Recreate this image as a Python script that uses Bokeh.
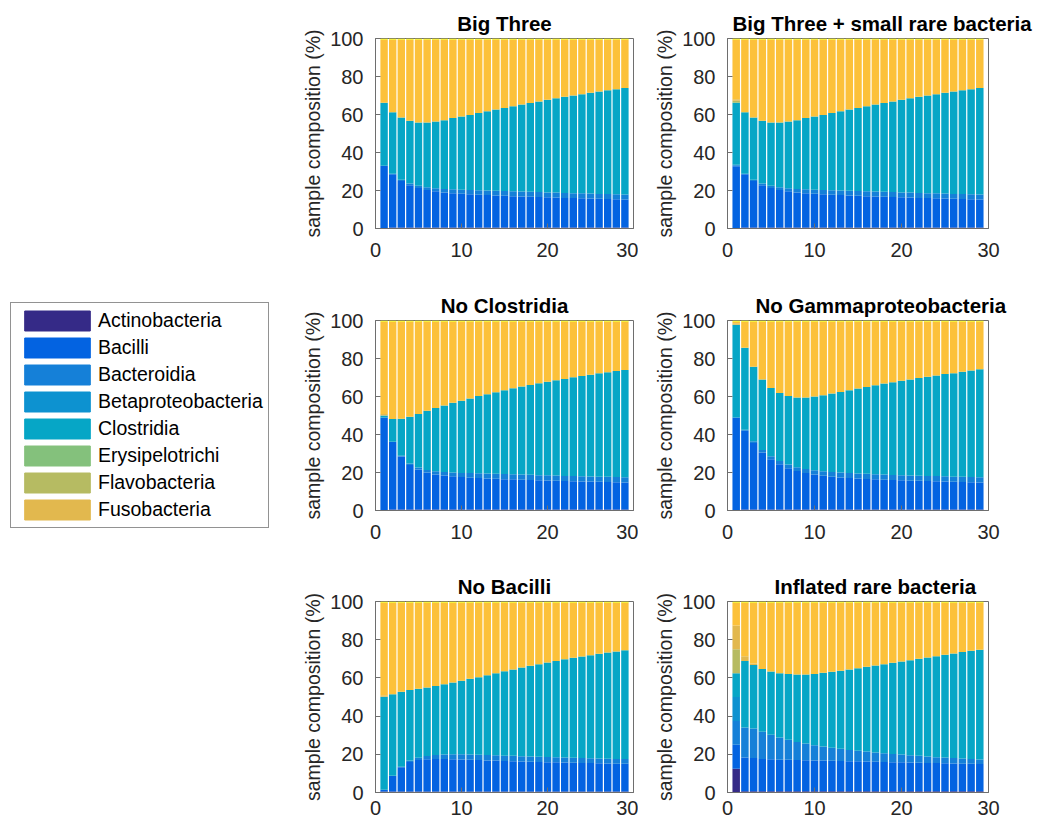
from bokeh.plotting import figure
from bokeh.models import ColumnDataSource, Legend, LegendItem, Range1d, FixedTicker
from bokeh.layouts import row, column
from bokeh.embed import file_html
from bokeh.resources import INLINE

# ---------------- data ----------------
samples = list(range(1, 30))
classes = ["Actinobacteria", "Bacilli", "Bacteroidia", "Betaproteobacteria", "Clostridia",
           "Erysipelotrichi", "Flavobacteria", "Fusobacteria", "Gammaproteobacteria", "Other"]
legend_classes = classes[:8]
colors = ["#352a87", "#0363e1", "#1580d8", "#0d92d0", "#06a6c6",
          "#84c17c", "#b6bb62", "#e2b84e", "#fcc13a", "#f6f20e"]

zeros = [0.0] * 29
top_other = [0.6] * 29

# Big Three
big3_actino = [0.0] + [0.5] * 28
big3_bacilli = [33.0, 28.0, 24.5, 22.3, 20.8, 19.8, 19.1, 18.5, 18.1, 17.8, 17.5, 17.3, 17.1, 16.9, 16.7,
                16.5, 16.4, 16.2, 16.1, 15.9, 15.8, 15.6, 15.5, 15.4, 15.3, 15.1, 15.0, 14.9, 14.8]
big3_bacteroidia = [0.0, 0.3, 0.6, 0.9, 1.2, 1.4, 1.6, 1.8, 2.0, 2.1, 2.2, 2.3, 2.4, 2.5, 2.5] + [2.6] * 14
big3_clostridia = [33.2, 32.4, 32.8, 33.0, 33.3, 34.1, 35.1, 36.2, 37.5, 38.5, 39.6, 40.7, 41.7, 42.7, 43.7,
                   44.7, 45.7, 46.7, 47.7, 48.8, 49.6, 50.6, 51.4, 52.2, 53.0, 53.9, 54.7, 55.3, 56.1]
big3_gamma = [33.2, 38.2, 41.0, 42.7, 43.6, 43.6, 43.1, 42.4, 41.3, 40.5, 39.6, 38.6, 37.7, 36.8, 36.0,
              35.1, 34.2, 33.4, 32.5, 31.6, 30.9, 30.1, 29.4, 28.7, 28.0, 27.3, 26.6, 26.1, 25.4]

# Big Three + small rare bacteria
rare_actino = [0.3] + big3_actino[1:]
rare_bacilli = [32.5] + big3_bacilli[1:]
rare_bacteroidia = [0.5] + big3_bacteroidia[1:]
rare_betaproteo = [0.3] + [0.0] * 28
rare_clostridia = [32.5] + big3_clostridia[1:]
rare_erysip = [0.3] + [0.0] * 28
rare_flavo = [0.8] + [0.0] * 28
rare_fuso = [0.8] + [0.0] * 28
rare_gamma = [31.4] + big3_gamma[1:]

# No Clostridia
noclos_actino = [0.3] + [0.5] * 28
noclos_bacilli = [48.7, 35.5, 27.9, 23.5, 21.1, 19.5, 18.5, 17.9, 17.5, 17.1, 16.8, 16.6, 16.4, 16.2, 16.0,
                  15.9, 15.7, 15.6, 15.4, 15.3, 15.2, 15.0, 14.9, 14.8, 14.7, 14.6, 14.5, 14.4, 14.3]
noclos_bacteroidia = [0.0, 0.2, 0.4, 0.7, 1.0, 1.3, 1.6, 1.8, 2.0, 2.2, 2.4, 2.5, 2.6] + [2.7] * 16
noclos_clostridia = [1.0, 12.0, 19.5, 24.7, 28.2, 31.2, 33.3, 35.1, 36.7, 37.9, 39.3, 40.6, 41.7, 42.9, 44.1,
                     45.2, 46.3, 47.3, 48.4, 49.2, 50.1, 51.0, 52.0, 52.8, 53.6, 54.4, 55.0, 55.8, 56.4]
noclos_fuso = [0.8] + [0.0] * 28
noclos_gamma = [48.6, 51.2, 51.1, 50.0, 48.6, 46.9, 45.5, 44.1, 42.7, 41.7, 40.4, 39.2, 38.2, 37.1, 36.1,
                35.1, 34.2, 33.3, 32.4, 31.7, 30.9, 30.2, 29.3, 28.6, 27.9, 27.2, 26.7, 26.0, 25.5]

# No Gammaproteobacteria
nogam_actino = [0.3] + [0.5] * 28
nogam_bacilli = [48.7, 41.5, 35.0, 30.0, 26.5, 23.8, 21.8, 20.3, 19.2, 18.4, 17.8, 17.3, 16.9, 16.6, 16.3,
                 16.1, 15.9, 15.7, 15.5, 15.4, 15.2, 15.1, 15.0, 14.9, 14.8, 14.6, 14.5, 14.4, 14.3]
nogam_bacteroidia = [0.0, 0.5, 1.0, 1.3, 1.5, 1.7, 1.9, 2.0, 2.2, 2.3, 2.4, 2.5, 2.6, 2.6] + [2.7] * 15
nogam_clostridia = [48.7, 43.2, 39.2, 37.2, 36.0, 35.9, 36.0, 36.7, 37.6, 38.8, 40.0, 41.3, 42.4, 43.6, 44.7,
                    45.7, 46.8, 47.9, 48.8, 49.7, 50.6, 51.4, 52.2, 53.0, 53.8, 54.5, 55.3, 56.1, 56.8]
nogam_fuso = [0.8] + [0.0] * 28
nogam_gamma = [0.9, 13.7, 23.7, 30.4, 34.9, 37.5, 39.2, 39.9, 39.9, 39.4, 38.7, 37.8, 37.0, 36.1, 35.2,
               34.4, 33.5, 32.6, 31.9, 31.1, 30.4, 29.7, 29.0, 28.3, 27.6, 27.1, 26.4, 25.7, 25.1]

# No Bacilli
nobac_actino = [0.5] * 29
nobac_bacilli = [1.0, 8.2, 12.7, 15.5, 16.5, 16.9, 17.0, 17.0, 16.9, 16.8, 16.6, 16.5, 16.3, 16.2, 16.0,
                 15.9, 15.7, 15.6, 15.5, 15.4, 15.3, 15.2, 15.1, 15.0, 14.9, 14.8, 14.7, 14.6, 14.5]
nobac_bacteroidia = [0.0, 0.1, 0.3, 0.7, 1.2, 1.7, 2.1, 2.4, 2.6, 2.7, 2.8, 2.8, 2.8, 2.8, 2.8,
                     2.8, 2.8, 2.7, 2.7, 2.7, 2.6, 2.6, 2.6, 2.6, 2.5, 2.5, 2.5, 2.5, 2.5]
nobac_clostridia = [48.6, 42.7, 39.2, 36.9, 36.1, 35.9, 36.2, 36.8, 37.6, 38.5, 39.6, 40.6, 41.8, 43.0, 44.2,
                    45.2, 46.4, 47.5, 48.5, 49.5, 50.5, 51.5, 52.3, 53.1, 54.0, 54.8, 55.6, 56.2, 57.0]
nobac_fuso = [0.8] + [0.0] * 28
nobac_gamma = [48.5, 47.9, 46.7, 45.8, 45.1, 44.4, 43.6, 42.7, 41.8, 40.9, 39.9, 39.0, 38.0, 36.9, 35.9,
               35.0, 34.0, 33.1, 32.2, 31.3, 30.5, 29.6, 28.9, 28.2, 27.5, 26.8, 26.1, 25.6, 24.9]

# Inflated rare bacteria
infl_actino = [12.5] + [0.6] * 28
infl_bacilli = [12.5, 17.7, 17.4, 17.0, 16.8, 16.6, 16.5, 16.4, 16.3, 16.2, 16.1, 16.0, 15.9, 15.8, 15.7,
                15.6, 15.5, 15.4, 15.3, 15.2, 15.1, 15.0, 14.9, 14.8, 14.7, 14.6, 14.5, 14.4, 14.3]
infl_bacteroidia = [12.5, 15.7, 15.5, 14.2, 12.8, 11.6, 10.5, 9.5, 8.8, 8.0, 7.4, 6.8, 6.4, 5.9, 5.5,
                    5.3, 4.8, 4.6, 4.3, 4.1, 3.8, 3.6, 3.3, 3.1, 3.0, 2.8, 2.7, 2.5, 2.4]
infl_betaproteo = [12.5] + [0.0] * 28
infl_clostridia = [12.5, 34.9, 33.3, 32.9, 33.2, 33.7, 34.4, 35.3, 36.1, 37.3, 38.6, 39.8, 40.8, 42.1, 43.3,
                   44.3, 45.6, 46.6, 47.7, 48.7, 49.8, 50.8, 51.9, 52.9, 53.8, 54.8, 55.7, 56.7, 57.4]
infl_flavo = [12.5] + [0.0] * 28
infl_fuso = [12.5, 2.5, 0.8] + [0.0] * 26
infl_gamma = [11.9, 28.0, 31.8, 34.7, 36.0, 36.9, 37.4, 37.6, 37.6, 37.3, 36.7, 36.2, 35.7, 35.0, 34.3,
              33.6, 32.9, 32.2, 31.5, 30.8, 30.1, 29.4, 28.7, 28.0, 27.3, 26.6, 25.9, 25.2, 24.7]

titles = ["Big Three", "Big Three + small rare bacteria", "No Clostridia",
          "No Gammaproteobacteria", "No Bacilli", "Inflated rare bacteria"]

panels = [
    [big3_actino, big3_bacilli, big3_bacteroidia, zeros, big3_clostridia, zeros, zeros, zeros, big3_gamma, top_other],
    [rare_actino, rare_bacilli, rare_bacteroidia, rare_betaproteo, rare_clostridia, rare_erysip, rare_flavo,
     rare_fuso, rare_gamma, top_other],
    [noclos_actino, noclos_bacilli, noclos_bacteroidia, zeros, noclos_clostridia, zeros, zeros, noclos_fuso,
     noclos_gamma, top_other],
    [nogam_actino, nogam_bacilli, nogam_bacteroidia, zeros, nogam_clostridia, zeros, zeros, nogam_fuso,
     nogam_gamma, top_other],
    [nobac_actino, nobac_bacilli, nobac_bacteroidia, zeros, nobac_clostridia, zeros, zeros, nobac_fuso,
     nobac_gamma, top_other],
    [infl_actino, infl_bacilli, infl_bacteroidia, infl_betaproteo, infl_clostridia, zeros, infl_flavo,
     infl_fuso, infl_gamma, top_other],
]

# ---------------- styling ----------------
FONT = "Liberation Sans"
AXIS_COL = "#262626"
FRAME_COL = "#6e6e6e"
# left-aligned title offsets for the right-hand column (titles sit right of centre there)
RIGHT_TITLE_OFFSETS = {1: 5, 3: 28, 5: 47}


def make_panel(idx, title, series):
    col = idx % 2
    rw = idx // 2
    data = {"sample": samples}
    keys = []
    for i, s in enumerate(series):
        k = "c%d" % i
        data[k] = s
        keys.append(k)
    src = ColumnDataSource(data)
    if col == 0:
        bl, br, fw = 90, 5, 258
    else:
        bl, br, fw = 89, 47, 261
    bt = 38
    if rw == 0:
        fh, bb = 190, 54
    elif rw == 1:
        fh, bb = 190, 53
    else:
        fh, bb = 191, 31
    p = figure(width=bl + fw + br, height=bt + fh + bb,
               x_range=Range1d(0, 30), y_range=Range1d(0, 100),
               toolbar_location=None, output_backend="svg",
               min_border_left=bl, min_border_right=br,
               min_border_top=bt, min_border_bottom=bb, title=title)
    p.vbar_stack(keys, x="sample", width=0.86, fill_color=colors, line_color=None, source=src)
    p.xaxis.ticker = FixedTicker(ticks=[0, 10, 20, 30])
    p.yaxis.ticker = FixedTicker(ticks=[0, 20, 40, 60, 80, 100])
    p.yaxis.axis_label = "sample composition (%)"
    p.yaxis.axis_label_text_font = FONT
    p.yaxis.axis_label_text_font_size = "19.5px"
    p.yaxis.axis_label_text_font_style = "normal"
    p.yaxis.axis_label_text_color = AXIS_COL
    p.yaxis.axis_label_standoff = 3
    p.axis.major_label_text_font = FONT
    p.axis.major_label_text_font_size = "20px"
    p.axis.major_label_text_color = AXIS_COL
    p.axis.major_tick_in = 5
    p.axis.major_tick_out = 0
    p.axis.minor_tick_line_color = None
    p.axis.axis_line_color = FRAME_COL
    p.axis.major_tick_line_color = FRAME_COL
    p.yaxis.major_label_standoff = 12
    p.xaxis.major_label_standoff = 8 if rw == 2 else 14
    p.outline_line_color = FRAME_COL
    p.grid.visible = False
    p.title.text_font = FONT
    p.title.text_font_size = "20.5px"
    p.title.text_font_style = "bold"
    p.title.text_color = "#000000"
    p.title.standoff = 8
    if col == 1:
        p.title.align = "left"
        p.title.offset = RIGHT_TITLE_OFFSETS[idx]
    else:
        p.title.align = "center"
    return p


figs = [make_panel(i, t, s) for i, (t, s) in enumerate(zip(titles, panels))]

# legend figure
lf = figure(width=285, height=540, x_axis_type=None, y_axis_type=None,
            x_range=Range1d(0, 1), y_range=Range1d(0, 1),
            toolbar_location=None, output_backend="svg", min_border=0,
            outline_line_color=None)
lf.grid.visible = False
items = []
for name, c in zip(legend_classes, colors[:8]):
    r = lf.vbar(x=[5.0], top=[5.0], width=0.5, fill_color=c, line_color=c)
    items.append(LegendItem(label=name, renderers=[r]))
leg = Legend(items=items, location=(10, 12), glyph_width=82, glyph_height=25,
             label_text_font=FONT, label_text_font_size="19.5px", label_text_color="#000000",
             label_standoff=0, spacing=2, padding=5, margin=0, label_height=20,
             border_line_color=AXIS_COL, border_line_width=1,
             background_fill_color="white", background_fill_alpha=1.0)
lf.add_layout(leg)

grid = column(row(figs[0], figs[1]), row(figs[2], figs[3]), row(figs[4], figs[5]))
layout = row(lf, grid)

open("out.html", "w").write(file_html(layout, INLINE))
